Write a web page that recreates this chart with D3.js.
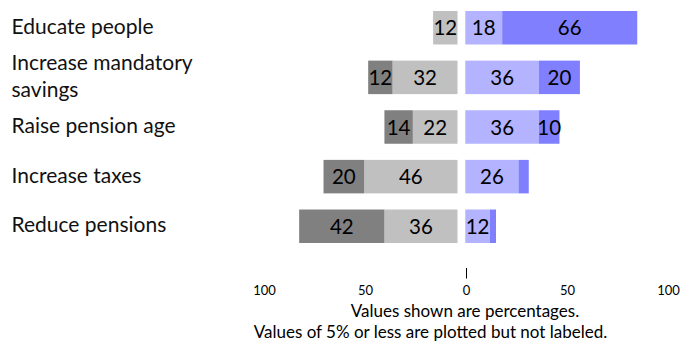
<!DOCTYPE html>
<html>
<head>
<meta charset="utf-8">
<script src="https://cdn.jsdelivr.net/npm/d3@7"></script>
<style>
  html, body { margin: 0; padding: 0; background: #fff; }
  svg { display: block; font-family: Lato, "Open Sans", sans-serif; }
</style>
</head>
<body>
<svg id="chart" width="681" height="346"></svg>
<script>
// ---- data ----
const categories = ["Educate people", "Increase mandatory savings", "Raise pension age", "Increase taxes", "Reduce pensions"];
const strongDisagree = [0, 12, 14, 20, 42];
const disagree = [12, 32, 22, 46, 36];
const agree = [18, 36, 36, 26, 12];
const strongAgree = [66, 20, 10, 5, 3];
const axisTicks = [-100, -50, 0, 50, 100];
const notes = ["Values shown are percentages.", "Values of 5% or less are plotted but not labeled."];

const colors = { strongDisagree: "#808080", disagree: "#c0c0c0", agree: "#b3b3ff", strongAgree: "#8080ff" };

const svg = d3.select("#chart");

// scales
const y = d3.scaleBand().domain(categories).range([11, 243]).paddingInner(0.325).paddingOuter(0);
const xNeg = d3.scaleLinear().domain([0, 100]).range([457.5, 254.5]);
const xPos = d3.scaleLinear().domain([0, 100]).range([465.3, 670]);
const xAxis = d3.scaleLinear().domain([-100, 100]).range([264, 668]);

// build segments
const segs = [];
categories.forEach((c, i) => {
  segs.push({ cat: c, side: "neg", start: 0, value: disagree[i], color: colors.disagree });
  segs.push({ cat: c, side: "neg", start: disagree[i], value: strongDisagree[i], color: colors.strongDisagree });
  segs.push({ cat: c, side: "pos", start: 0, value: agree[i], color: colors.agree });
  segs.push({ cat: c, side: "pos", start: agree[i], value: strongAgree[i], color: colors.strongAgree });
});

function segX(d) {
  return d.side === "neg" ? xNeg(d.start + d.value) : xPos(d.start);
}
function segW(d) {
  return d.side === "neg" ? xNeg(d.start) - xNeg(d.start + d.value) : xPos(d.start + d.value) - xPos(d.start);
}

const bars = svg.append("g");
bars.selectAll("rect").data(segs.filter(d => d.value > 0)).join("rect")
  .attr("x", segX)
  .attr("y", d => y(d.cat))
  .attr("width", segW)
  .attr("height", y.bandwidth())
  .attr("fill", d => d.color);

bars.selectAll("text").data(segs.filter(d => d.value > 5)).join("text")
  .attr("x", d => segX(d) + segW(d) / 2)
  .attr("y", d => y(d.cat) + y.bandwidth() / 2 + 7.5)
  .attr("text-anchor", "middle")
  .attr("font-size", 20.5)
  .attr("fill", "#000")
  .text(d => d.value);

// category labels (wrapped)
const labG = svg.append("g");
const measure = svg.append("text").attr("font-size", 21).attr("visibility", "hidden");
function wrap(str, maxW) {
  const words = str.split(" ");
  const lines = [];
  let cur = "";
  words.forEach(w => {
    const t = cur ? cur + " " + w : w;
    measure.text(t);
    if (measure.node().getComputedTextLength() > maxW && cur) {
      lines.push(cur);
      cur = w;
    } else cur = t;
  });
  lines.push(cur);
  return lines;
}
const lineH = 26.7;
categories.forEach(c => {
  const lines = wrap(c, 205);
  const cy = y(c) + y.bandwidth() / 2 + 6;
  const t = labG.append("text").attr("font-size", 21).attr("fill", "#111");
  lines.forEach((ln, k) => {
    t.append("tspan")
      .attr("x", 11.5)
      .attr("y", cy + (k - (lines.length - 1) / 2) * lineH)
      .text(ln);
  });
});
measure.remove();

// axis
const ax = svg.append("g").attr("transform", "translate(0,286)")
  .call(d3.axisBottom(xAxis).tickValues(axisTicks).tickSize(0).tickPadding(0).tickFormat(d => Math.abs(d)));
ax.select(".domain").remove();
ax.selectAll("text").attr("font-size", 13).attr("font-family", "Lato, sans-serif").attr("fill", "#000");

// zero tick mark
svg.append("line")
  .attr("x1", xAxis(0) + 0.5).attr("x2", xAxis(0) + 0.5)
  .attr("y1", 268).attr("y2", 278.5)
  .attr("stroke", "#000").attr("stroke-width", 1);

// notes
svg.append("text").attr("x", 465).attr("y", 316.7).attr("text-anchor", "middle")
  .attr("font-size", 17).attr("fill", "#000").text(notes[0]);
svg.append("text").attr("x", 430.5).attr("y", 338.3).attr("text-anchor", "middle")
  .attr("font-size", 17).attr("fill", "#000").text(notes[1]);
</script>
</body>
</html>
